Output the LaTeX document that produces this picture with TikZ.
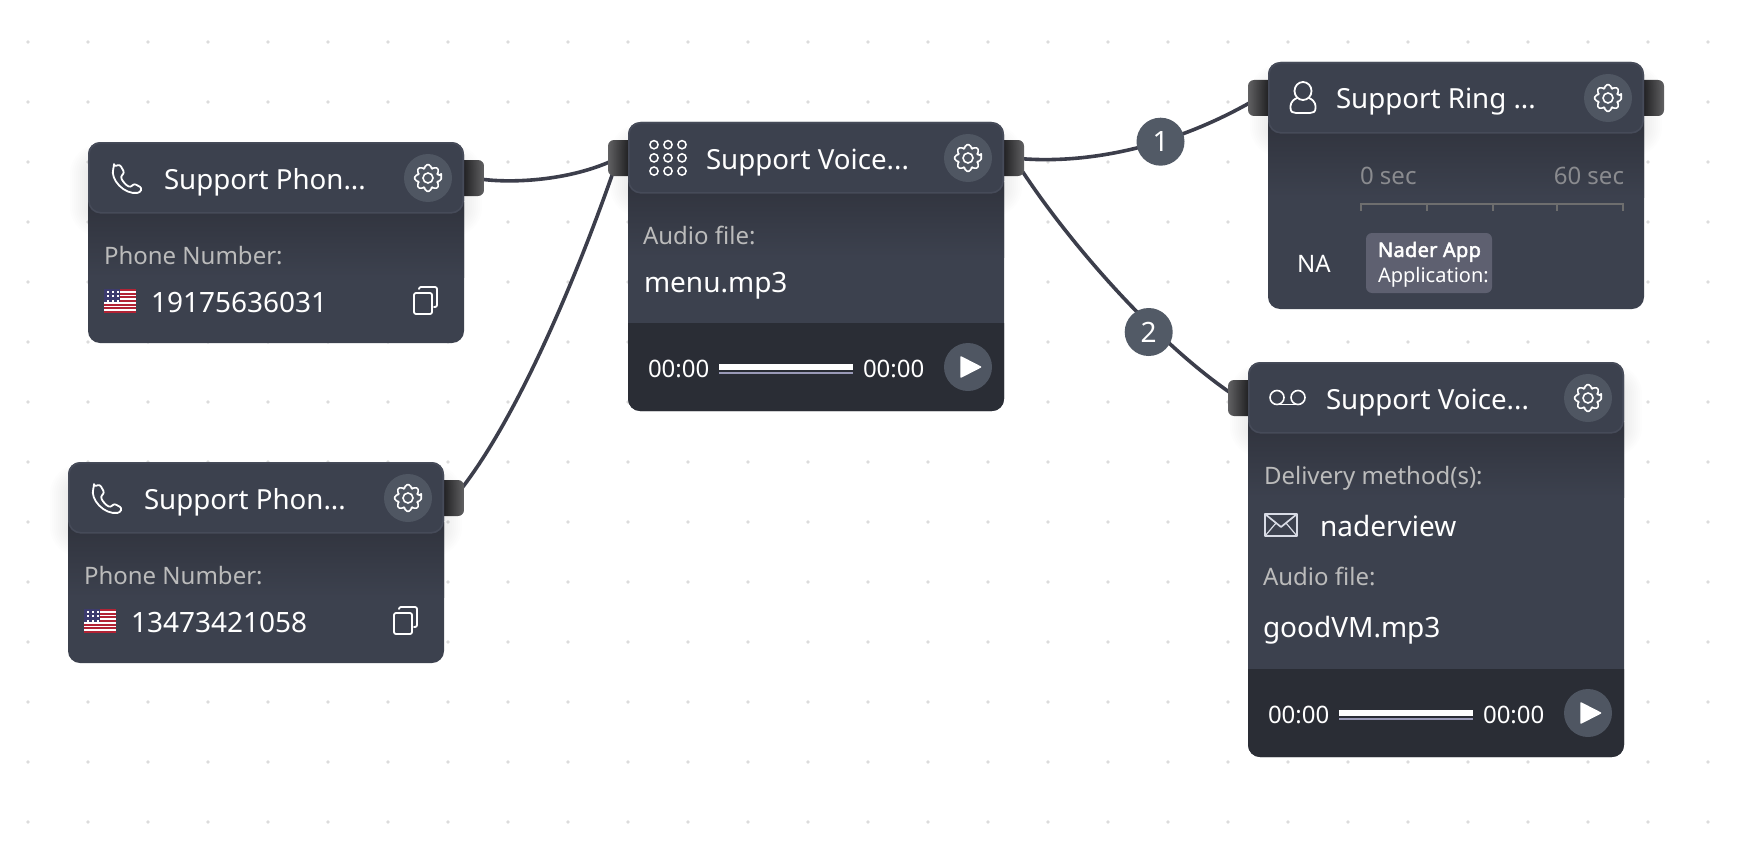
\documentclass[tikz,border=0pt]{standalone}
\usepackage{fontspec}
\setmainfont{Noto Sans}
\newfontfamily\appbold{Noto Sans}[FakeBold=2.4,LetterSpace=1.5]
\definecolor{cardbg}{HTML}{3C414E}
\definecolor{cardshade}{HTML}{30333D}
\definecolor{headedge}{HTML}{464B59}
\definecolor{gearbg}{HTML}{4F5662}
\definecolor{playerbg}{HTML}{2A2D35}
\definecolor{wire}{HTML}{3C3E4B}
\definecolor{griddot}{HTML}{DCDCDC}
\definecolor{labelgrey}{HTML}{BBBBBB}
\definecolor{secgrey}{HTML}{8A8B8F}
\definecolor{rulergrey}{HTML}{6E6E6E}
\definecolor{badgegrey}{HTML}{525A66}
\definecolor{appbg}{HTML}{5E6070}
\definecolor{slidebar}{HTML}{9A9AB8}
\definecolor{envline}{HTML}{D8DBE5}
\definecolor{flagred}{HTML}{B22234}
\definecolor{flagblue}{HTML}{3C3B6E}
\definecolor{portdark}{HTML}{0C0C0E}
\definecolor{portlight}{HTML}{606062}
\pgfdeclarelayer{bottom}
\pgfdeclarelayer{wires}
\pgfsetlayers{bottom,wires,main}
\tikzset{
  x=1pt,y=-1pt,
  every node/.style={inner sep=0pt,outer sep=0pt},
  titletext/.style={anchor=base west,text=white,font=\fontsize{27.7}{32}\selectfont},
  valuetext/.style={anchor=base west,text=white,font=\fontsize{28}{32}\selectfont},
  labeltext/.style={anchor=base west,text=labelgrey,font=\fontsize{24}{28}\selectfont},
  timetext/.style={anchor=base west,text=white,font=\fontsize{24}{28}\selectfont},
  sectext/.style={anchor=base west,text=secgrey,font=\fontsize{24}{28}\selectfont},
  apptext/.style={anchor=base west,text=white,font=\fontsize{20}{24}\selectfont},
  cardbody/.style={anchor=north west,fill=cardbg,rounded corners=12pt,minimum width=376pt},
  headbox/.style={anchor=north west,fill=cardbg,draw=headedge,line width=1.6pt,rounded corners=12pt,minimum width=374.4pt,minimum height=70pt},
  gearcircle/.style={circle,fill=gearbg,minimum size=48pt},
  portright/.style={anchor=west,minimum width=32pt,minimum height=36pt,rounded corners=6pt,left color=portdark,right color=portlight},
  portleft/.style={anchor=east,minimum width=32pt,minimum height=36pt,rounded corners=6pt,left color=portlight,right color=portdark},
  wirestyle/.style={draw=wire,line width=3.6pt},
  badge/.style={circle,fill=badgegrey,minimum size=48pt,text=white,font=\fontsize{28}{32}\selectfont},
  iconline/.style={draw=white,line width=1.8pt,line join=round,line cap=round},
  gearicon/.pic={
    \draw[draw=white,line width=1.6pt,rounded corners=1.6pt,line join=round]
      (-11:13.5) \foreach \a in {0,45,...,315}{ -- (\a-11:13.5) -- (\a+11:13.5) -- (\a+17:10.2) -- (\a+28:10.2) } -- cycle;
    \draw[draw=white,line width=1.6pt] (0,0) circle[radius=5];
  },
  phoneicon/.pic={
    \draw[iconline,rounded corners=2.4pt]
      (2,2.5) -- (8,0.5) -- (12.5,9) -- (8.5,12.5)
      .. controls (11,18) and (14,21) .. (18.5,23.5)
      -- (22,19.5) -- (30,24) -- (28,28.5)
      .. controls (12,31) and (-2,15) .. (2,2.5) -- cycle;
  },
  flagicon/.pic={
    \fill[white] (0,0) rectangle (32,24);
    \foreach \s in {0,2,...,12}{ \fill[flagred] (0,\s*1.846) rectangle (32,\s*1.846+1.846); }
    \fill[flagblue] (0,0) rectangle (16,12.9);
    \foreach \i in {0,1,2}{ \foreach \j in {0,1,2}{ \fill[white] (2.8+\i*5,2.2+\j*4.2) rectangle +(2,2); } }
  },
  copyicon/.pic={
    \draw[iconline,rounded corners=2pt] (0,6) rectangle (18,27);
    \draw[iconline,rounded corners=2pt] (5,2) -- (5,0) -- (23,0) -- (23,20) -- (20,20);
  },
  playicon/.pic={
    \fill[white,draw=white,line width=1.5pt,line join=round] (-7,-10) -- (-7,10) -- (12.5,0) -- cycle;
  },
  slider/.pic={
    \fill[white] (0,0) rectangle (134,6);
    \fill[slidebar] (0,8) rectangle (134,10);
  },
}
% #1 name, #2 x, #3 y, #4 height
\newcommand{\cardframe}[4]{%
  \node[cardbody,minimum height=#4 pt] (#1) at (#2,#3) {};
  \foreach \e in {0,2,...,18}{
    \pgfmathsetmacro{\rr}{12+\e}
    \fill[black,opacity=0.007,rounded corners=\rr pt] (#2-\e,#3+20-\e) rectangle (#2+376+\e,#3+71+6+\e);
  }
  \shade[top color=cardshade,bottom color=cardbg] (#2,#3+60) rectangle (#2+376,#3+135);
}
\newcommand{\cardhead}[3]{%
  \node[headbox] (#1head) at (#2+0.8,#3+0.8) {};
  \node[gearcircle] (#1gear) at (#2+340,#3+36) {};
  \pic at (#1gear.center) {gearicon};
}
% #1 name prefix, #2 x, #3 ptop, #4 bottom
\newcommand{\player}[4]{%
  \fill[playerbg] (#2,#3) [rounded corners=12pt] -- (#2,#4) -- (#2+376,#4) [sharp corners] -- (#2+376,#3) -- cycle;
  \node[timetext] (#1ta) at (#2+20,#3+54) {00:00};
  \pic at (#2+91,#3+41) {slider};
  \node[timetext] (#1tb) at (#2+235,#3+54) {00:00};
  \node[gearcircle] (#1play) at (#2+340,#3+44) {};
  \pic at (#1play.center) {playicon};
}
\begin{document}
\begin{tikzpicture}
\useasboundingbox (0,0) rectangle (1744,864);
\begin{pgfonlayer}{bottom}
\fill[white] (0,0) rectangle (1744,864);
\foreach \i in {0,...,28}{\foreach \j in {0,...,13}{
  \fill[griddot] (28+60*\i,42+60*\j) circle[radius=1.9];
}}
\end{pgfonlayer}
% ports: their inner ends hide behind the cards
\node[portright] (p1out) at (452,178) {};
\node[portright] (p2out) at (432,498) {};
\node[portleft]  (vin)   at (640,158) {};
\node[portright] (vout)  at (992,158) {};
\node[portleft]  (rin)   at (1280,98) {};
\node[portright] (rout)  at (1632,98) {};
\node[portleft]  (min)   at (1260,398) {};
% connectors, drawn under the ports
\begin{pgfonlayer}{wires}
\path[wirestyle] ([xshift=6pt]p1out.center) .. controls (505,184) and (570,182) .. ([xshift=-6pt]vin.center);
\path[wirestyle] ([xshift=6pt]p2out.center) .. controls (515,425) and (578,275) .. ([xshift=-6pt]vin.center);
\path[wirestyle] ([xshift=6pt]vout.center) .. controls (1080,165) and (1170,150) .. ([xshift=-6pt]rin.center);
\path[wirestyle] ([xshift=6pt]vout.center) .. controls (1055,225) and (1150,340) .. ([xshift=-6pt]min.center);
\end{pgfonlayer}
% badges
\node[badge] (b1) at (1160.5,141.7) {1};
\node[badge] (b2) at (1148.7,332) {2};
% card 1
\cardframe{c1}{88}{142}{201}
\cardhead{c1}{88}{142}
\pic at (112,164) {phoneicon};
\node[titletext] (c1t) at (164,189) {Support Phon...};
\node[labeltext] (c1l) at (104,264) {Phone Number:};
\pic at (104,289) {flagicon};
\node[valuetext] (c1v) at (151,312) {19175636031};
\pic at (414,287) {copyicon};
% card 2
\cardframe{c2}{68}{462}{201}
\cardhead{c2}{68}{462}
\pic at (92,484) {phoneicon};
\node[titletext] (c2t) at (144,509) {Support Phon...};
\node[labeltext] (c2l) at (84,584) {Phone Number:};
\pic at (84,609) {flagicon};
\node[valuetext] (c2v) at (131,632) {13473421058};
\pic at (394,607) {copyicon};
% voice menu
\cardframe{v}{628}{122}{289}
\player{v}{628}{323}{411}
\cardhead{v}{628}{122}
\foreach \i in {0,1,2}{\foreach \j in {0,1,2}{
  \draw[draw=white,line width=1.5pt] (654+14*\i,144.7+13.2*\j) circle[radius=4.1];
}}
\node[titletext] (vt) at (706,169) {Support Voice...};
\node[labeltext] (vl) at (643,244) {Audio file:};
\node[valuetext] (vv) at (644,292) {menu.mp3};
% ring group
\cardframe{r}{1268}{62}{247}
\cardhead{r}{1268}{62}
\draw[iconline] (1303,91) ellipse[x radius=8.5,y radius=9];
\draw[iconline] (1297,98) .. controls (1290,101) and (1290.5,106) .. (1290.5,108)
  .. controls (1290.5,112) and (1293,113) .. (1296,113) -- (1310,113)
  .. controls (1313,113) and (1315.5,112) .. (1315.5,108)
  .. controls (1315.5,106) and (1316,101) .. (1309,98);
\node[titletext] (rt) at (1336,109) {Support Ring ...};
\node[sectext] (rs0) at (1360,184) {0 sec};
\node[sectext,anchor=base east] (rs60) at (1624,184) {60 sec};
\draw[draw=rulergrey,line width=2pt] (1361,211) -- (1361,204) -- (1623,204) -- (1623,211);
\foreach \tx in {1427,1493,1557}{ \draw[draw=rulergrey,line width=2pt] (\tx,204) -- (\tx,211); }
\node[timetext] (rna) at (1297,272) {NA};
\node[anchor=north west,fill=appbg,rounded corners=6pt,minimum width=126pt,minimum height=60pt] (rapp) at (1366,233) {};
\node[apptext,font=\appbold\fontsize{20}{24}\selectfont] (rapp1) at (1378,257) {Nader App};
\node[apptext] (rapp2) at (1378,282) {Application:};
% voicemail
\cardframe{m}{1248}{362}{395}
\player{m}{1248}{669}{757}
\cardhead{m}{1248}{362}
\draw[draw=white,line width=1.6pt] (1277,397.5) circle[radius=7];
\draw[draw=white,line width=1.6pt] (1298,397.5) circle[radius=7];
\draw[draw=white,line width=1.6pt] (1277,404.5) -- (1298,404.5);
\node[titletext] (mt) at (1326,409) {Support Voice...};
\node[labeltext] (ml1) at (1264,484) {Delivery method(s):};
\draw[draw=envline,line width=1.7pt,line join=round] (1265,514) rectangle (1297,536);
\draw[draw=envline,line width=1.7pt,line join=round] (1265,514) -- (1281,527) -- (1297,514);
\draw[draw=envline,line width=1.2pt] (1265,536) -- (1276,523);
\draw[draw=envline,line width=1.2pt] (1297,536) -- (1286,523);
\node[valuetext] (mv1) at (1320,536) {naderview};
\node[labeltext] (ml2) at (1263,585) {Audio file:};
\node[valuetext] (mv2) at (1263,637) {goodVM.mp3};
\end{tikzpicture}
\end{document}
